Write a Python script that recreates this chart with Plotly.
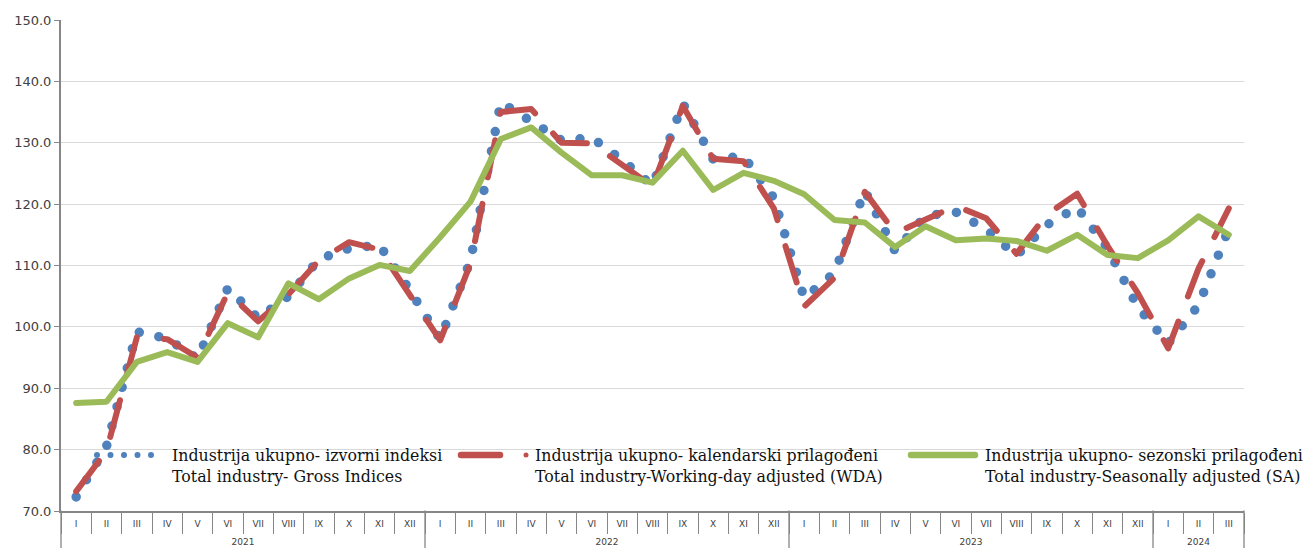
import plotly.graph_objects as go

# ---------------- data ----------------
years = ["2021", "2022", "2023", "2024"]
months = ["I", "II", "III", "IV", "V", "VI", "VII", "VIII", "IX", "X", "XI", "XII"]
months_per_year = [12, 12, 12, 3]

gross = [72.3, 80.5, 99.2, 98.1, 94.8, 106.3, 101.4, 105.0, 111.0, 112.8, 113.3, 106.0,
         98.0, 110.8, 136.6, 133.4, 130.4, 130.8, 127.2, 123.0, 136.4, 127.3, 127.8, 121.0,
         104.7, 108.8, 122.2, 112.3, 118.1, 118.7, 115.9, 111.6, 116.6, 119.5, 112.8, 103.2,
         97.3, 103.5, 116.0]

wda = [73.2, 79.8, 98.3, 98.0, 95.0, 105.6, 100.9, 105.3, 110.8, 113.8, 112.6, 105.0,
       97.8, 110.3, 135.0, 135.5, 130.0, 129.9, 126.3, 122.9, 136.0, 127.4, 127.0, 119.3,
       103.3, 108.0, 122.0, 115.3, 117.5, 119.7, 117.7, 111.9, 118.3, 121.7, 113.2, 105.5,
       96.5, 109.5, 119.3]

sa = [87.6, 87.8, 94.3, 95.9, 94.3, 100.6, 98.3, 107.1, 104.5, 107.9, 110.1, 109.1,
      114.6, 120.4, 130.6, 132.5, 128.4, 124.7, 124.7, 123.5, 128.7, 122.3, 125.1, 123.8,
      121.6, 117.4, 117.0, 113.0, 116.4, 114.1, 114.4, 114.0, 112.4, 115.0, 111.7, 111.2,
      114.1, 118.0, 115.0]

name_gross = ["Industrija ukupno- izvorni indeksi", "Total industry- Gross Indices"]
name_wda = ["Industrija ukupno- kalendarski prilagođeni", "Total industry-Working-day adjusted (WDA)"]
name_sa = ["Industrija ukupno- sezonski prilagođeni", "Total industry-Seasonally adjusted (SA)"]

# ---------------- styles ----------------
BLUE = "#4F81BD"
RED = "#C0504D"
GREEN = "#9BBB59"
AXIS = "#868686"
GRID = "#D9D9D9"

x_year, x_month = [], []
for yr, n in zip(years, months_per_year):
    x_year += [yr] * n
    x_month += months[:n]
x = [x_year, x_month]
n_total = len(x_month)

fig = go.Figure()
fig.add_trace(go.Scatter(x=x, y=gross, mode="lines", name=" ".join(name_gross),
                         line=dict(color=BLUE, width=9.5, dash="0px,20px"), showlegend=False))
fig.add_trace(go.Scatter(x=x, y=wda, mode="lines", name=" ".join(name_wda),
                         line=dict(color=RED, width=6, dash="38px,27px"), showlegend=False))
fig.add_trace(go.Scatter(x=x, y=sa, mode="lines", name=" ".join(name_sa),
                         line=dict(color=GREEN, width=6), showlegend=False))

# plot area in pixels (for legend placement)
W, H = 1306, 548
L, R, T, B = 61, 62, 20, 37
PW, PH = W - L - R, H - T - B


def px(xp):
    return (xp - L) / PW


def py(yp):
    return (H - B - yp) / PH


LEG_Y = 455
TEXT_FONT = dict(family="DejaVu Serif", size=15.8, color="#111111")

shapes = [
    dict(type="line", xref="paper", yref="paper", x0=px(97), x1=px(151.5), y0=py(LEG_Y), y1=py(LEG_Y),
         line=dict(color=BLUE, width=6, dash="0px,13.5px")),
    dict(type="line", xref="paper", yref="paper", x0=px(461), x1=px(500), y0=py(LEG_Y), y1=py(LEG_Y),
         line=dict(color=RED, width=6.5)),
    dict(type="circle", xref="paper", yref="paper", x0=px(523.5), x1=px(528.5), y0=py(LEG_Y + 2.5), y1=py(LEG_Y - 2.5),
         fillcolor=RED, line=dict(width=0)),
    dict(type="line", xref="paper", yref="paper", x0=px(911), x1=px(975), y0=py(LEG_Y), y1=py(LEG_Y),
         line=dict(color=GREEN, width=6.5)),
]

# year dividers running to the bottom edge (at category-group boundaries)
cum = 0
bounds = [0]
for n in months_per_year:
    cum += n
    bounds.append(cum)
for b in bounds:
    shapes.append(dict(type="line", xref="paper", yref="paper", x0=b / n_total, x1=b / n_total,
                       y0=0, y1=-B / PH, line=dict(color=AXIS, width=1.3)))

annotations = []
for xt, nm in [(170, name_gross), (533, name_wda), (983, name_sa)]:
    annotations.append(dict(xref="paper", yref="paper", x=px(xt), y=py(466), xanchor="left", yanchor="middle",
                            text="<br>".join(nm), showarrow=False, align="left", font=TEXT_FONT))

fig.update_layout(
    width=W, height=H,
    template="none",
    margin=dict(l=L, r=R, t=T, b=B, pad=0),
    paper_bgcolor="white", plot_bgcolor="white",
    shapes=shapes, annotations=annotations,
    showlegend=False,
    xaxis=dict(type="multicategory", range=[-0.5, n_total - 0.5],
               showline=True, linecolor=AXIS, linewidth=1.5,
               ticks="outside", ticklen=21, tickcolor=AXIS, tickwidth=1.3,
               ticklabelstandoff=3,
               tickfont=dict(family="DejaVu Sans", size=9, color="#404040"),
               showdividers=False,
               showgrid=False, zeroline=False, automargin=False),
    yaxis=dict(range=[70, 150], dtick=10, tick0=70, tickformat=".1f",
               showline=True, linecolor=AXIS, linewidth=2, ticks="outside", ticklen=5,
               tickcolor=AXIS, tickwidth=1.3, showgrid=True, gridcolor=GRID, gridwidth=1.3,
               zeroline=False, automargin=False,
               tickfont=dict(family="DejaVu Sans", size=13, color="#404040")),
)

css = ("var s=document.createElement('style');"
       "s.innerHTML='html,body{margin:0;padding:0;overflow:hidden;} "
       ".js-line, .shapelayer path{stroke-linecap:round;stroke-linejoin:round;} "
       "g.xtick2{transform:translateY(9px);}';"
       "document.head.appendChild(s);")
fig.write_html("out.html", post_script=css, config={"displayModeBar": False})
